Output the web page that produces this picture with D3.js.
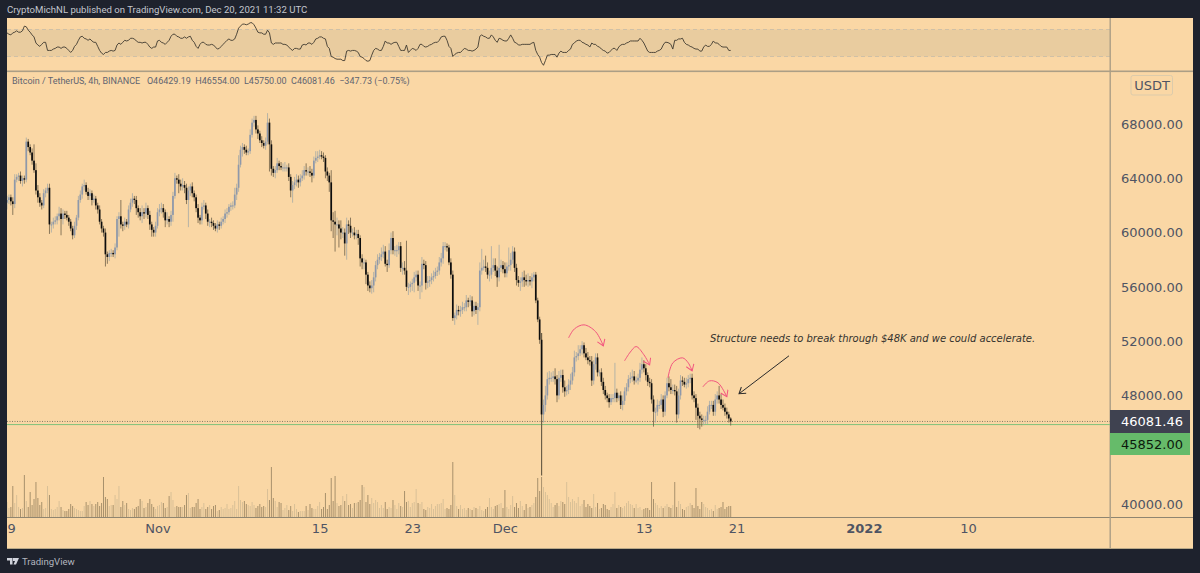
<!DOCTYPE html>
<html>
<head>
<meta charset="utf-8">
<script src="https://cdn.jsdelivr.net/npm/d3@7"></script>
<style>
  html, body { margin: 0; padding: 0; background: #1e222d; }
  svg { display: block; }
  text { white-space: pre; }
</style>
</head>
<body>
<div id="chart"></div>
<script>
// BTC/USDT 4h, values. Prices in thousands of USDT.
var closes = [
62.4,62.6,62.3,62.1,63.9,64.1,64.2,63.8,64.0,63.9,
66.7,66.3,65.9,65.3,64.6,63.1,62.6,62.2,62.0,62.9,
63.1,63.3,60.6,60.6,60.8,60.9,61.2,61.4,61.0,61.4,
61.3,61.1,60.8,60.3,59.8,60.5,61.1,62.4,62.8,63.4,
63.5,63.0,62.7,62.9,62.4,62.5,62.0,61.7,60.8,60.3,
60.0,58.4,58.2,58.5,58.5,58.4,58.9,61.0,61.2,60.6,
60.5,60.8,60.6,61.7,62.2,62.5,62.4,61.8,61.5,61.2,
61.5,61.4,61.8,61.3,60.6,60.2,60.0,60.5,61.5,61.7,
61.8,61.5,60.9,61.0,60.8,61.3,62.7,64.0,63.9,63.6,
63.4,63.5,63.3,62.4,63.1,63.4,62.9,62.6,61.8,61.1,
60.9,61.9,62.0,61.4,60.8,60.8,60.7,60.5,60.3,60.6,
60.5,60.8,61.0,61.4,61.5,61.9,62.0,62.0,62.8,63.3,
65.0,66.1,66.3,66.1,65.9,66.0,67.2,68.1,68.3,67.6,
67.3,66.8,66.6,66.4,66.7,68.1,66.5,64.7,64.4,64.6,
65.1,64.9,64.8,64.8,64.8,64.8,64.1,63.1,63.5,63.7,
63.9,63.7,64.0,64.2,64.6,64.5,64.5,64.4,64.2,65.3,
65.5,65.6,65.7,65.6,65.5,64.5,64.2,63.7,60.9,60.8,
60.6,60.6,60.3,60.0,60.0,59.2,60.6,60.5,60.0,60.0,
59.8,59.9,59.6,58.1,57.8,57.8,56.9,56.1,55.9,56.1,
56.7,57.6,58.0,58.2,58.4,58.6,57.7,57.6,58.7,59.6,
58.7,58.7,58.7,59.0,57.4,57.4,57.2,56.0,56.0,56.2,
56.3,56.7,56.9,56.1,56.1,57.7,57.6,56.3,56.4,56.5,
56.7,56.8,57.1,57.2,57.8,58.1,59.0,59.0,58.9,57.8,
56.9,53.7,53.9,54.3,54.2,54.3,54.5,54.5,55.0,54.9,
55.0,54.2,54.6,54.3,54.5,57.2,57.4,57.5,57.4,56.9,
56.9,57.4,57.6,57.2,56.7,57.4,57.6,57.3,57.0,57.5,
57.6,58.0,58.6,57.4,56.5,56.3,56.4,56.7,56.5,56.4,
56.5,56.4,56.7,56.9,55.0,53.6,52.1,46.6,47.3,48.0,
49.2,49.3,49.3,49.4,49.2,48.0,49.3,49.5,48.6,48.3,
48.4,48.8,49.1,49.7,50.8,50.9,51.1,51.4,51.7,51.1,
50.8,50.6,50.5,49.1,50.3,50.8,49.7,49.7,49.0,48.4,
48.0,47.8,47.5,47.8,47.8,48.2,47.8,48.0,47.3,47.6,
48.3,48.6,49.2,49.3,49.4,49.1,49.1,49.3,49.9,50.3,
50.0,49.5,49.0,48.9,47.7,46.8,46.8,47.3,47.3,47.7,
46.8,48.0,48.9,48.6,48.4,48.4,48.3,46.6,48.0,49.1,
49.0,48.8,48.9,49.2,49.3,48.0,47.8,47.1,46.5,46.3,
46.2,46.2,46.2,46.8,47.3,47.3,46.8,47.7,48.0,47.7,
47.3,47.1,46.8,46.6,46.3,46.08
];
// wick lengths beyond the candle body, in hundreds of USDT
var upperWick = [
3,2,2,3,4,2,2,3,2,2,
3,2,2,3,12,5,4,3,2,3,
2,3,3,2,3,3,2,5,4,3,
2,3,2,2,2,3,2,3,3,2,
4,2,3,3,2,3,2,2,3,2,
2,3,2,2,3,2,3,2,3,12,
2,3,2,3,3,4,2,3,2,3,
5,3,4,2,3,2,2,3,3,4,
4,3,2,5,2,3,3,4,2,4,
3,5,3,3,3,2,3,2,2,3,
2,3,4,2,3,2,3,2,2,3,
2,3,2,3,3,2,2,3,5,3,
7,3,3,2,3,2,4,3,3,3,
3,2,3,2,3,7,3,3,2,3,
4,2,3,3,4,2,3,2,3,4,
4,3,3,4,3,5,3,4,3,3,
5,4,4,3,3,2,3,2,9,6,
8,5,3,6,4,3,5,3,6,3,
4,3,3,2,3,3,2,2,3,4,
4,3,4,3,5,5,4,3,5,4,
5,3,4,3,3,4,5,22,3,2,
3,4,3,3,3,5,3,3,4,3,
3,4,3,3,4,4,3,3,2,2,
3,3,2,4,3,3,4,3,4,2,
4,3,3,3,3,6,14,5,8,4,
3,16,5,5,3,17,4,3,5,3,
13,5,4,3,3,3,3,4,5,4,
5,3,3,2,2,2,2,5,4,7,
5,5,4,4,6,3,5,4,4,5,
3,4,5,4,5,3,6,3,3,2,
4,4,3,4,3,3,3,2,3,3,
3,2,3,3,3,22,3,2,3,4,
3,3,3,4,5,4,3,3,5,5,
3,3,2,3,3,3,3,4,3,4,
3,3,4,5,6,4,4,4,5,4,
3,3,4,3,3,3,3,3,3,3,
3,3,3,4,3,3,3,4,3,7,
4,4,3,3,2,1
];
var lowerWick = [
5,3,3,8,3,2,3,2,4,3,
2,3,2,3,2,3,4,3,3,2,
3,2,7,6,3,2,3,3,12,4,
3,2,3,2,3,2,3,2,2,3,
3,2,3,3,4,2,3,3,2,3,
3,9,5,3,3,2,3,2,13,3,
4,3,2,3,2,3,3,5,4,3,
5,4,3,3,4,5,3,3,2,3,
3,4,5,3,4,3,5,2,3,7,
3,3,4,3,20,4,3,3,3,4,
3,3,2,4,3,4,3,3,2,3,
3,2,2,3,3,2,3,3,2,4,
3,2,5,3,2,2,2,2,3,3,
4,2,3,2,3,2,20,5,3,4,
2,3,2,3,3,3,3,5,9,3,
3,4,3,2,3,3,3,3,5,2,
2,3,2,2,3,5,4,7,8,12,
20,8,14,5,4,9,12,6,4,3,
3,3,5,6,5,5,7,4,3,4,
5,3,3,3,3,3,2,5,2,3,
3,4,5,3,3,5,3,3,6,4,
5,7,3,4,10,5,3,5,4,4,
3,3,2,3,3,3,4,3,3,2,
3,2,5,3,3,4,3,3,3,4,
3,4,3,3,11,3,3,2,3,3,
5,3,3,4,7,3,3,3,3,3,
3,4,3,3,4,3,6,4,5,3,
4,3,5,3,2,2,3,45,6,5,
3,4,3,3,4,5,3,3,4,4,
3,3,4,3,3,3,3,2,4,3,
2,3,3,4,3,4,3,3,3,3,
3,3,4,2,3,3,3,2,3,4,
3,3,3,3,3,3,2,3,3,3,
3,4,3,3,3,11,8,3,3,3,
4,3,2,3,3,3,3,6,3,3,
3,2,3,3,3,3,3,9,9,8,
5,4,3,3,2,3,3,3,3,3,
3,2,3,3,3,3
];
// volume bars
var volumes = [
15,9,10,31,14,22,10,8,9,42,
16,10,25,12,18,35,19,12,15,8,
9,31,22,8,7,8,10,16,10,7,
6,6,8,13,11,9,8,7,6,6,
11,15,12,16,13,11,13,15,11,14,
40,20,18,11,12,12,22,18,31,10,
16,12,14,8,7,9,8,10,11,18,
16,9,10,14,18,13,10,8,11,12,
15,14,9,10,21,25,17,10,11,10,
10,10,12,22,24,9,10,10,14,18,
8,10,14,8,10,12,8,11,12,6,
7,10,8,9,13,8,9,12,16,8,
31,17,15,16,13,12,11,15,12,9,
11,13,10,11,10,28,17,50,19,16,
10,15,14,7,9,12,7,11,6,13,
8,5,6,6,6,11,7,13,9,8,
8,11,15,8,10,24,8,12,39,16,
41,14,11,12,21,16,23,12,13,9,
14,14,15,17,32,30,15,22,13,19,
14,17,15,9,12,9,15,8,10,9,
17,12,8,14,11,10,26,15,16,10,
14,15,28,14,13,15,8,7,10,9,
13,8,11,13,13,14,18,8,9,8,
12,55,22,11,8,12,8,9,7,9,
8,7,10,9,8,11,7,6,8,10,
19,10,8,11,12,13,14,9,27,10,
8,12,21,10,14,9,16,11,7,13,
9,10,12,14,20,39,26,40,30,25,
22,18,14,10,12,14,11,16,15,13,
35,20,15,18,16,14,20,11,13,17,
10,13,11,9,23,10,14,8,9,13,
12,8,7,10,13,25,9,12,10,9,
11,14,16,13,12,9,13,9,10,7,
8,9,9,7,35,18,14,12,9,11,
9,11,13,10,9,12,35,10,16,13,
8,7,10,11,14,12,9,29,11,8,
15,13,10,9,7,8,6,12,8,9,
10,15,8,10,11,11
];
// RSI pane
var rsi = [
65,63,62,65,66,68,66,66,68,75,
74,69,66,62,59,50,47,45,48,51,
51,39,39,39,41,42,44,44,42,44,
44,42,39,36,39,45,48,54,59,60,
57,56,54,56,53,51,51,45,39,35,
33,36,36,38,39,38,39,47,50,48,
51,54,53,54,57,57,56,53,51,51,
50,51,51,48,44,42,44,44,53,54,
51,50,48,51,54,60,63,63,60,59,
57,57,59,57,59,60,54,51,45,42,
48,51,51,48,47,47,48,47,44,41,
42,45,48,51,54,56,54,54,56,63,
72,75,78,78,77,78,80,80,77,72,
66,65,65,63,63,69,65,50,48,50,
50,50,50,48,48,47,44,41,39,42,
42,41,41,47,48,47,50,50,48,51,
56,57,59,59,57,56,45,42,30,29,
27,26,26,26,24,24,38,39,38,39,
39,38,36,30,29,27,24,23,24,32,
39,42,41,39,39,45,53,50,50,48,
50,51,51,45,39,39,39,47,36,39,
42,41,39,42,48,48,45,44,45,47,
48,50,51,51,54,59,60,60,54,45,
42,30,33,35,36,36,39,42,41,39,
39,38,39,41,44,60,62,60,59,57,
57,62,59,54,51,57,56,54,53,53,
57,62,57,51,50,47,47,48,48,48,
48,48,50,51,39,33,29,21,17,24,
32,32,33,33,33,29,35,38,36,36,
36,39,41,48,50,53,54,54,51,50,
48,47,44,50,48,48,45,44,41,39,
38,35,36,39,42,42,39,44,47,48,
48,50,51,53,53,53,53,53,57,54,
50,44,38,36,36,36,36,38,39,41,
47,51,51,50,48,41,54,54,56,56,
57,51,48,47,45,44,42,41,41,38,
38,44,47,45,45,48,53,50,50,48,
45,44,44,44,39,39
];
var priceTicks = [40, 48, 52, 56, 60, 64, 68];
var timeTickIdx = [0, 78, 162, 210, 258, 330, 378, 444, 498];
var timeTickLabels = ["19", "Nov", "15", "23", "Dec", "13", "21", "2022", "10"];
var lastPrice = 46.08146, linePrice = 45.852;
var legendText = "Bitcoin / TetherUS, 4h, BINANCE   O46429.19  H46554.00  L45750.00  C46081.46  \u2212347.73 (\u22120.75%)";

// pink arcs and black arrow: [candle index, price]
var arcs = [
  [[291,52.24],[294,52.9],[299,53.2],[305,52.7],[309,51.65]],
  [[320,50.55],[323,51.2],[326,51.6],[330,51.0],[333,50.25]],
  [[342.5,49.3],[345,50.4],[350,50.77],[353,50.4],[355,49.8]],
  [[360.6,48.63],[364,49.07],[368.4,48.93],[373,47.9]]
];
var noteArrow = [[405.2,50.92],[379.3,48.12]];

if (closes.length != 376 || upperWick.length != 376 || lowerWick.length != 376 || volumes.length != 376 || rsi.length != 376)
  throw new Error("lengths " + [closes.length, upperWick.length, lowerWick.length, volumes.length, rsi.length]);

// Set up geometric size
var width = 1200, height = 573;
var paneLeft = 7, paneRight = 1193, axisX = 1110,
    paneTop = 18, paneBottom = 549, rsiBottom = 71, timeY = 517;

var bg = "#1e222d", paper = "#fad7a5", rule = "#ab9e85",
    upColor = "#8e98aa", downColor = "#0d0d0d",
    upWick = "#a5a9a6", downWick = "#6d5f47",
    tickColor = "#4f5463";

var x = d3.scaleLinear().domain([0, 375]).range([7, 730.7]);
var y = d3.scaleLinear().domain([40, 68]).range([504, 124]);
var yVol = d3.scaleLinear().domain([0, 55]).range([517, 462]);
var yRsi = d3.scaleLinear().domain([30, 70]).range([56.5, 29.5]);

var svg = d3.select("#chart").append("svg")
    .attr("width", width)
    .attr("height", height)
    .style("font-family", "'DejaVu Sans', sans-serif");

svg.append("rect").attr("width", width).attr("height", height).attr("fill", bg);
svg.append("rect")
    .attr("x", paneLeft).attr("y", paneTop)
    .attr("width", paneRight - paneLeft).attr("height", paneBottom - paneTop)
    .attr("fill", paper);

var defs = svg.append("defs");
defs.append("clipPath").attr("id", "mainClip").append("rect")
    .attr("x", paneLeft).attr("y", rsiBottom)
    .attr("width", axisX - paneLeft).attr("height", timeY - rsiBottom);
defs.append("clipPath").attr("id", "axisClip").append("rect")
    .attr("x", paneLeft).attr("y", timeY)
    .attr("width", axisX - paneLeft).attr("height", paneBottom - timeY);

function arrowMarker(id, color) {
  defs.append("marker")
      .attr("id", id)
      .attr("markerWidth", 9).attr("markerHeight", 9)
      .attr("refX", 7).attr("refY", 4.5)
      .attr("orient", "auto")
      .attr("markerUnits", "userSpaceOnUse")
    .append("path")
      .attr("d", "M1,0.5 L7,4.5 L1,8.5")
      .attr("fill", "none").attr("stroke", color).attr("stroke-width", 1);
}
arrowMarker("pinkHead", "#f2557f");
arrowMarker("blackHead", "#2b2b2b");

// RSI pane
svg.append("rect")
    .attr("x", paneLeft).attr("y", yRsi(70))
    .attr("width", axisX - paneLeft).attr("height", yRsi(30) - yRsi(70))
    .attr("fill", "#e9cc9f");
svg.selectAll(".rsiBand").data([70, 30]).enter().append("line")
    .attr("x1", paneLeft).attr("x2", axisX)
    .attr("y1", yRsi).attr("y2", yRsi)
    .attr("stroke", "#cfc0a6").attr("stroke-dasharray", "4,3");
svg.append("path")
    .attr("d", d3.line().x(function(d, i){ return x(i); }).y(function(d){ return yRsi(d); })(rsi))
    .attr("fill", "none").attr("stroke", "#3f3a30").attr("stroke-width", 0.9);

// Frame rules
svg.append("rect").attr("x", paneLeft).attr("y", rsiBottom - 0.5).attr("width", paneRight - paneLeft).attr("height", 1.6).attr("fill", rule);
svg.append("rect").attr("x", paneLeft).attr("y", timeY).attr("width", paneRight - paneLeft).attr("height", 1).attr("fill", "#8f8570");
svg.append("rect").attr("x", axisX - 0.5).attr("y", paneTop).attr("width", 1.4).attr("height", paneBottom - paneTop).attr("fill", rule);
svg.append("rect").attr("x", paneLeft).attr("y", paneBottom - 1).attr("width", paneRight - paneLeft).attr("height", 1).attr("fill", "#b9a988");

var main = svg.append("g").attr("clip-path", "url(#mainClip)");

// Volume
main.selectAll(".vol").data(volumes).enter().append("rect")
    .attr("x", function(d, i){ return x(i) - 0.5; })
    .attr("y", function(d){ return yVol(d); })
    .attr("width", 1)
    .attr("height", function(d){ return yVol(0) - yVol(d); })
    .attr("fill", function(d, i){
      var open = i ? closes[i - 1] : closes[0];
      return closes[i] >= open ? "#d9c097" : "#a8916c";
    });

// Price lines
main.append("line")
    .attr("x1", paneLeft).attr("x2", axisX)
    .attr("y1", y(lastPrice)).attr("y2", y(lastPrice))
    .attr("stroke", "#6b6455").attr("stroke-width", 0.8).attr("stroke-dasharray", "1,1.5");
main.append("line")
    .attr("x1", paneLeft).attr("x2", axisX)
    .attr("y1", y(linePrice)).attr("y2", y(linePrice))
    .attr("stroke", "#7fc27a").attr("stroke-width", 1);

// Candles
var candles = closes.map(function(c, i){
  var o = i ? closes[i - 1] : 62.2;
  return {
    i: i, o: o, c: c,
    h: Math.max(o, c) + upperWick[i] / 10,
    l: Math.min(o, c) - lowerWick[i] / 10,
    up: c >= o
  };
});

main.selectAll(".wick").data(candles).enter().append("line")
    .attr("x1", function(d){ return x(d.i); })
    .attr("x2", function(d){ return x(d.i); })
    .attr("y1", function(d){ return y(d.h); })
    .attr("y2", function(d){ return y(d.l); })
    .attr("stroke", function(d){ return d.up ? upWick : downWick; })
    .attr("stroke-width", function(d){ return d.i == 277 ? 1.2 : 0.8; });

main.selectAll(".body").data(candles).enter().append("rect")
    .attr("x", function(d){ return x(d.i) - 0.85; })
    .attr("y", function(d){ return y(Math.max(d.o, d.c)); })
    .attr("width", 1.7)
    .attr("height", function(d){ return Math.max(1, Math.abs(y(d.o) - y(d.c))); })
    .attr("fill", function(d){ return d.up ? upColor : downColor; });

// Drawings
var drawLine = d3.line()
    .x(function(d){ return x(d[0]); })
    .y(function(d){ return y(d[1]); });

main.selectAll(".arc").data(arcs).enter().append("path")
    .attr("d", function(d){ return drawLine.curve(d3.curveCatmullRom)(d); })
    .attr("fill", "none").attr("stroke", "#f2557f").attr("stroke-width", 1)
    .attr("marker-end", "url(#pinkHead)");

main.append("path")
    .attr("d", drawLine.curve(d3.curveLinear)(noteArrow))
    .attr("fill", "none").attr("stroke", "#2b2b2b").attr("stroke-width", 1)
    .attr("marker-end", "url(#blackHead)");

main.append("text")
    .attr("x", 710).attr("y", 342)
    .attr("font-family", "'DejaVu Sans', sans-serif")
    .attr("font-style", "italic").attr("font-size", 10)
    .attr("fill", "#33322e")
    .text("Structure needs to break through $48K and we could accelerate.");

// Axes
var priceAxis = d3.axisRight(y)
    .tickValues(priceTicks)
    .tickSize(0)
    .tickFormat(function(d){ return (d * 1000).toFixed(2); });
var priceG = svg.append("g").attr("transform", "translate(" + 1183 + ",0)").call(priceAxis);
priceG.select(".domain").remove();
priceG.selectAll("text")
    .attr("x", 0).attr("text-anchor", "end")
    .attr("font-size", 13).attr("font-family", "'DejaVu Sans', sans-serif")
    .attr("fill", tickColor);

var timeAxis = d3.axisBottom(x)
    .tickValues(timeTickIdx)
    .tickSize(0)
    .tickFormat(function(d, i){ return timeTickLabels[i]; });
var timeG = svg.append("g")
    .attr("clip-path", "url(#axisClip)")
    .append("g")
    .attr("transform", "translate(0," + 521 + ")")
    .call(timeAxis);
timeG.select(".domain").remove();
timeG.selectAll("text")
    .attr("font-size", 13).attr("font-family", "'DejaVu Sans', sans-serif")
    .attr("font-weight", function(d, i){ return timeTickLabels[i] == "2022" ? "bold" : "normal"; })
    .attr("fill", tickColor);

// USDT box
svg.append("rect")
    .attr("x", 1131).attr("y", 75.5).attr("width", 41.5).attr("height", 19.5).attr("rx", 2)
    .attr("fill", "none").attr("stroke", "#dccbab");
svg.append("text")
    .attr("x", 1152).attr("y", 90).attr("text-anchor", "middle")
    .attr("font-size", 13).attr("fill", tickColor).text("USDT");

// Price labels
svg.append("rect").attr("x", axisX).attr("y", 410).attr("width", 80).attr("height", 23).attr("fill", "#3f4250");
svg.append("rect").attr("x", axisX).attr("y", 433).attr("width", 80).attr("height", 22).attr("fill", "#66bb6a");
svg.append("text").attr("x", 1183).attr("y", 426).attr("text-anchor", "end")
    .attr("font-size", 13).attr("fill", "#ffffff").text("46081.46");
svg.append("text").attr("x", 1183).attr("y", 449).attr("text-anchor", "end")
    .attr("font-size", 13).attr("fill", "#0c1a0c").text("45852.00");

// Header, legend, footer
svg.append("text").attr("x", 7).attr("y", 13)
    .attr("font-family", "Roboto, sans-serif").attr("font-size", 9.6)
    .attr("fill", "#c3c6ce")
    .text("CryptoMichNL published on TradingView.com, Dec 20, 2021 11:32 UTC");
svg.append("text").attr("x", 12).attr("y", 84)
    .attr("font-family", "Roboto, sans-serif").attr("font-size", 9)
    .attr("fill", "#5f6470")
    .text(legendText);
svg.append("path")
    .attr("d", "M7,558 h5.5 v6.5 h-2.5 v-4 h-3 z M13,558 h6 l-3,6.5 h-2.5 l1.5,-3.5 h-2 z")
    .attr("fill", "#d1d4dc");
svg.append("text").attr("x", 22).attr("y", 565)
    .attr("font-family", "Roboto, sans-serif").attr("font-size", 9.6)
    .attr("fill", "#b2b5be")
    .text("TradingView");
</script>
</body>
</html>
